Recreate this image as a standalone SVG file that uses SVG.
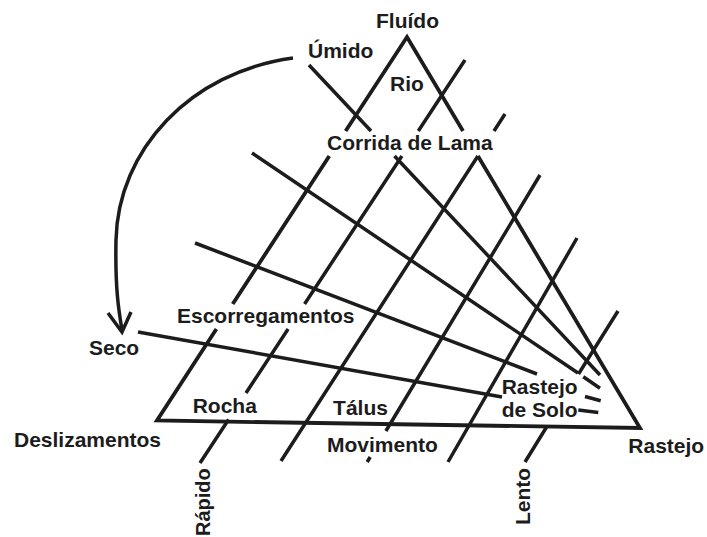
<svg xmlns="http://www.w3.org/2000/svg" width="707" height="537" viewBox="0 0 707 537">
<style>
.ln{fill:none;stroke:#1c1c1c;stroke-width:3.5;stroke-linecap:butt;stroke-linejoin:miter}
.edge{stroke-width:3.8}
.lb{font-family:"Liberation Sans",Arial,sans-serif;font-weight:bold;font-size:21px;fill:#1c1c1c}
</style>
<rect width="707" height="537" fill="#ffffff"/>
<g id="connectors">
  <!-- triangle -->
  <path class="ln edge" d="M216.4,329 L157,420.5 L640,428 L477.9,156 M463,131 L407,37 L345.6,131 M329.3,156 L232.7,304"/>
  <!-- lines rising to the right (speed) -->
  <path class="ln" d="M200,463 L228.6,419.5 M246,393 L288.1,329 M304.6,304 L401.9,156 M418.3,131 L465,60"/>
  <path class="ln" d="M281,461 L477.9,156 M494,131 L505,114"/>
  <path class="ln" d="M367.2,462 L370.2,457 M385.9,431 L540,175"/>
  <path class="ln" d="M448,462 L577,238"/>
  <path class="ln" d="M525,462 L547.2,426 M578.5,374 L618,311"/>
  <!-- lines falling to the right (moisture) -->
  <path class="ln" d="M309,65 L371,131 M394.5,156 L600,375"/>
  <path class="ln" d="M252,153 L578,373"/>
  <path class="ln" d="M195,243 L537,374"/>
  <path class="ln" d="M138,332 L502,397"/>
  <!-- dashes -->
  <path class="ln" d="M583.3,376.7 L600,388.3 M585,396.5 L600.7,400.7 M578.3,410 L598.3,412.5"/>
  <!-- curved arrow Úmido -> Seco -->
  <path class="ln" d="M293,58 C190,72 118,150 116,240 C115,290 119,312 122,330"/>
  <polyline class="ln" points="108,313 122,332 131,312"/>
</g>
<g id="fluido"><text class="lb" x="407.5" y="28.3" text-anchor="middle">Fluído</text></g>
<g id="umido"><text class="lb" x="308" y="58.3">Úmido</text></g>
<g id="rio"><text class="lb" x="390" y="90.7">Rio</text></g>
<g id="corrida"><text class="lb" x="327" y="150">Corrida de Lama</text></g>
<g id="escorregamentos"><text class="lb" x="177" y="323.3">Escorregamentos</text></g>
<g id="seco"><text class="lb" x="89" y="355">Seco</text></g>
<g id="rocha"><text class="lb" x="192.7" y="413.3">Rocha</text></g>
<g id="talus"><text class="lb" x="360.5" y="415" text-anchor="middle">Tálus</text></g>
<g id="deslizamentos"><text class="lb" x="14" y="446.7">Deslizamentos</text></g>
<g id="movimento"><text class="lb" x="327" y="451.7">Movimento</text></g>
<g id="rastejo-solo"><text class="lb" x="501.7" y="394.3">Rastejo</text><text class="lb" x="501.7" y="416.7">de Solo</text></g>
<g id="rastejo"><text class="lb" x="628.3" y="453.3">Rastejo</text></g>
<g id="rapido"><text class="lb" style="font-size:20px" transform="translate(210,536) rotate(-90)">Rápido</text></g>
<g id="lento"><text class="lb" transform="translate(530,525) rotate(-90)">Lento</text></g>
</svg>
